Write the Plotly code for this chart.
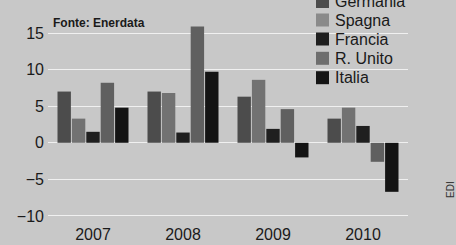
import plotly.graph_objects as go

years = ["2007", "2008", "2009", "2010"]
germania = [7.0, 7.0, 6.3, 3.3]
spagna = [3.3, 6.8, 8.6, 4.8]
francia = [1.5, 1.4, 1.9, 2.3]
regno_unito = [8.2, 15.9, 4.6, -2.6]
italia = [4.8, 9.7, -2.0, -6.7]

names = ["Germania", "Spagna", "Francia", "R. Unito", "Italia"]
values = [germania, spagna, francia, regno_unito, italia]
colors = ["#4c4c4c", "#727272", "#1f1f1f", "#606060", "#141414"]
swatch_colors = ["#4c4c4c", "#8a8a8a", "#1f1f1f", "#6e6e6e", "#141414"]

W, H = 456, 245
L, R, T, B = 48, 48, 15, 22
PW, PH = W - L - R, H - T - B


def px_x(x):
    return (x - L) / PW


def px_y(y):
    return 1 - (y - T) / PH


fig = go.Figure()
for name, vals, col in zip(names, values, colors):
    fig.add_trace(go.Bar(x=years, y=vals, name=name, showlegend=False,
                         marker=dict(color=col, line=dict(width=0))))

# legend drawn manually (first entry is cut by the top edge, as in the source)
legend_y = [1.5, 20, 39, 58.3, 77.7]
shapes = []
annotations = []
for name, col, yc in zip(names, swatch_colors, legend_y):
    shapes.append(dict(type="rect", xref="paper", yref="paper",
                       x0=px_x(316), x1=px_x(329), y0=px_y(yc + 6.5), y1=px_y(yc - 6.5),
                       fillcolor=col, line=dict(width=0)))
    annotations.append(dict(text=name, x=px_x(333), y=px_y(yc), xref="paper", yref="paper",
                            showarrow=False, xanchor="left", yanchor="middle",
                            font=dict(size=16, color="#1a1a1a")))

annotations.append(dict(text="<b>Fonte: Enerdata</b>", x=px_x(51), y=px_y(23),
                        xref="paper", yref="paper", showarrow=False,
                        font=dict(size=12, color="#1a1a1a"), xanchor="left", yanchor="middle"))
annotations.append(dict(text="EDI", x=px_x(450), y=px_y(190), xref="paper", yref="paper",
                        showarrow=False, font=dict(size=10, color="#333333"), textangle=-90,
                        xanchor="center", yanchor="middle"))

bg = "#c8c8c8"
fig.update_layout(
    width=W, height=H,
    margin=dict(l=L, r=R, t=T, b=B, pad=0, autoexpand=False),
    paper_bgcolor=bg, plot_bgcolor=bg,
    barmode="group", bargap=0.2, bargroupgap=0.07,
    font=dict(family="Liberation Sans, Arial, sans-serif", color="#1a1a1a", size=16),
    showlegend=False,
    xaxis=dict(showgrid=False, showline=False, ticks="", tickfont=dict(size=16),
               range=[-0.5, 3.5]),
    yaxis=dict(range=[-10.96, 17.46], tickvals=[-10, -5, 0, 5, 10, 15],
               showgrid=True, gridcolor="#f0f0f0", gridwidth=1.2, zeroline=False,
               showline=False, ticks="", ticklabelstandoff=3, tickfont=dict(size=16)),
    shapes=shapes,
    annotations=annotations,
)

fig.write_html("out.html", config={"displayModeBar": False},
               post_script="document.body.style.margin='0';document.body.style.overflow='hidden';")
